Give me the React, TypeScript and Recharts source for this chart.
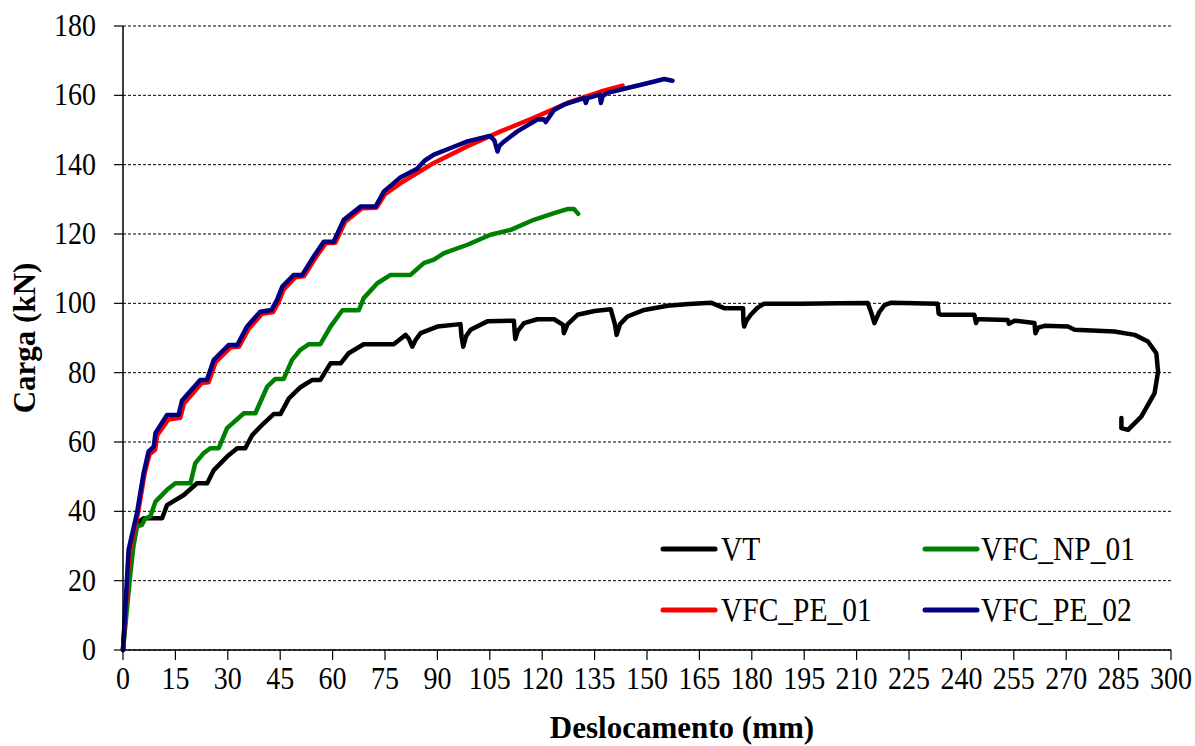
import React from 'react';
import { LineChart, Line, XAxis, YAxis, CartesianGrid } from 'recharts';

// Deslocamento (mm) / Carga (kN)
const VT_MM = [0, 1, 2.1, 3, 4, 5.9, 11.2, 12.6, 17.4, 21.2, 24.1, 26, 29.8, 32.7, 35, 37, 40.3, 43.2, 45.1, 47.5, 50.8, 54.2, 56.5, 59.4, 62.3, 64.6, 68.9, 77.5, 79.5, 80.9, 81.8, 82.8, 83.8, 85.2, 90, 96.6, 96.9, 97.4, 98.2, 99.5, 104.3, 111.9, 112.1, 112.3, 113, 114.8, 118.6, 123.4, 126, 126.2, 127.3, 130.1, 135, 139.6, 140.8, 141.3, 142.3, 144.4, 149.2, 155.9, 162, 168.3, 170, 172.1, 177.5, 177.6, 177.8, 178.5, 179.7, 181.5, 183.5, 194.1, 205, 213.2, 214.3, 215.1, 216.5, 218, 219.9, 233.2, 233.5, 234.2, 243.7, 244.2, 244.6, 245.6, 253.3, 253.6, 255.2, 260.9, 261.2, 262, 263.8, 270.5, 272.4, 283.8, 289.6, 293.4, 295.8, 296.3, 295.3, 291.5, 287.7, 285.8, 285.8];
const VT_KN = [0, 14, 27.9, 33.5, 36.6, 38, 38, 41.8, 44.7, 48.1, 48.1, 51.9, 55.8, 58.2, 58.2, 62, 65.4, 68.1, 68.1, 72.6, 75.8, 77.9, 77.9, 82.7, 82.7, 85.6, 88.2, 88.2, 89.8, 90.9, 89.8, 87.5, 89.5, 91.4, 93.3, 94, 90.5, 87.5, 90.5, 92.4, 94.8, 95, 92, 89.7, 92, 94.3, 95.4, 95.4, 93.8, 91.4, 94, 96.7, 97.8, 98.3, 94, 90.9, 94, 96.2, 98.1, 99.3, 99.8, 100.2, 99.5, 98.6, 98.6, 95, 93.3, 95, 96.7, 98.6, 99.9, 99.9, 100, 100.1, 97, 94.3, 97.5, 99.5, 100.2, 99.9, 97, 96.7, 96.7, 94.3, 95.4, 95.4, 95.2, 94.1, 95, 94.3, 91.4, 93, 93.5, 93.3, 92.4, 91.9, 90.9, 89, 85.6, 80.3, 74.1, 67.3, 63.5, 64, 66.9];

const NP_MM = [0, 2.1, 3, 4, 5.4, 6.4, 7.8, 9.3, 12.6, 15, 19.3, 20.7, 23.1, 25, 27.4, 29.8, 34.6, 37.9, 41.3, 43.6, 46, 48.4, 50.8, 53.2, 56.5, 59.4, 62.8, 67.5, 68.9, 72.8, 76.6, 82.3, 86.1, 89, 91.9, 98.6, 105.2, 111, 117.6, 123.4, 127.2, 129.1, 130.3];
const NP_KN = [0, 22, 30, 35.6, 36.1, 38, 38.5, 42.8, 46.2, 48.1, 48.1, 53.9, 56.8, 58.2, 58.2, 64, 68.3, 68.3, 76, 78.2, 78.2, 83.7, 86.6, 88.2, 88.2, 93.3, 98, 98, 101.5, 105.8, 108.2, 108.2, 111.6, 112.6, 114.5, 116.9, 119.8, 121.2, 124.1, 126, 127.2, 127.2, 125.8];

const PE1_MM = [0, 1.8, 4.3, 6.2, 7.6, 9.2, 9.8, 13, 16.4, 17.4, 22.5, 24.5, 26.5, 30.8, 33.2, 36, 39.8, 43, 44.6, 46, 49.3, 51.8, 55, 58, 60.8, 63.6, 68.4, 72.6, 75, 79.5, 89, 98.6, 108.1, 117.6, 127.2, 136.8, 143];
const PE1_KN = [0, 28, 39.5, 51, 56.5, 57.8, 62, 66.5, 67, 71, 77, 77.2, 83, 87.3, 87.5, 92.7, 97, 97.5, 100.5, 104, 107.5, 107.8, 113, 117.3, 117.5, 123.5, 127.4, 127.6, 131.5, 134.7, 140.5, 145.3, 149.6, 153.5, 157.8, 161.1, 162.8];

const PE2_MM = [0, 1.6, 4, 5.9, 7.3, 8.8, 9.3, 12.6, 15.9, 16.9, 22.1, 24, 26, 30.3, 32.7, 35.5, 39.3, 42.5, 44.1, 45.6, 48.9, 51.3, 54.6, 57.5, 60.3, 63.2, 68, 72.3, 74.7, 79.5, 84.2, 86.4, 89, 93.8, 98.6, 105, 106.3, 107.2, 107.8, 109.1, 112.9, 118.6, 120.5, 121, 121.6, 123.4, 126.2, 132, 132.5, 133, 136.5, 136.8, 137.3, 138.7, 144.4, 150.1, 154.9, 157.3];
const PE2_KN = [0, 28.9, 39.5, 51, 57.2, 58.7, 62.6, 67.8, 67.8, 72, 77.9, 77.9, 83.7, 88, 88, 93.3, 97.6, 98.1, 101, 104.8, 108.2, 108.2, 113.5, 117.8, 117.8, 124.1, 127.9, 127.9, 132.3, 136.4, 138.8, 141.2, 142.9, 144.8, 146.7, 148.3, 147, 143.8, 145.5, 146.7, 149.6, 153, 153.1, 152.3, 153.2, 155.8, 157.3, 159.2, 157.8, 159.2, 160.2, 157.8, 159.8, 160.7, 162.1, 163.5, 164.7, 164.2];

const X_TICKS = [0, 15, 30, 45, 60, 75, 90, 105, 120, 135, 150, 165, 180, 195, 210, 225, 240, 255, 270, 285, 300];
const Y_TICKS = [0, 20, 40, 60, 80, 100, 120, 140, 160, 180];

const toPoints = (xs: number[], ys: number[]) => xs.map((x, i) => ({ x, y: ys[i] }));

const SERIES = [
  { name: 'VT', color: '#000000', data: toPoints(VT_MM, VT_KN) },
  { name: 'VFC_NP_01', color: '#008000', data: toPoints(NP_MM, NP_KN) },
  { name: 'VFC_PE_01', color: '#ff0000', data: toPoints(PE1_MM, PE1_KN) },
  { name: 'VFC_PE_02', color: '#000080', data: toPoints(PE2_MM, PE2_KN) },
];

const FONT = '"Liberation Serif", "Times New Roman", serif';

function XTick({ x, y, payload }: any) {
  return (
    <g transform={`translate(${x},${y + 27})`}>
      <text textAnchor="middle" transform="scale(1,1.12)" fontFamily={FONT} fontSize={28} fill="#000">
        {payload.value}
      </text>
    </g>
  );
}

function YTick({ x, y, payload }: any) {
  return (
    <g transform={`translate(${x},${y + 10})`}>
      <text textAnchor="end" transform="scale(1,1.12)" fontFamily={FONT} fontSize={28} fill="#000">
        {payload.value}
      </text>
    </g>
  );
}

// legend sits in the lower right of the plot, 2 x 2
const LEGEND_POS = [
  { lx: 663, ly: 549, tx: 721, ty: 560 },
  { lx: 925, ly: 549, tx: 981, ty: 560 },
  { lx: 663, ly: 610, tx: 721, ty: 621 },
  { lx: 925, ly: 610, tx: 981, ty: 621 },
];

export default function App() {
  return (
    <div style={{ position: 'absolute', left: 0, top: 0, width: 1195, height: 746, background: '#fff' }}>
      <LineChart width={1195} height={746} margin={{ top: 26, right: 24, left: 0, bottom: 0 }}>
        <CartesianGrid vertical={false} stroke="#000" strokeDasharray="3 2" strokeWidth={1} />
        <XAxis
          type="number"
          dataKey="x"
          domain={[0, 300]}
          ticks={X_TICKS}
          interval={0}
          height={96}
          tickSize={10}
          axisLine={{ stroke: '#000', strokeWidth: 1.5 }}
          tickLine={{ stroke: '#000', strokeWidth: 1.2 }}
          tick={<XTick />}
          label={{
            content: () => (
              <text x={682} y={738} textAnchor="middle" fontFamily={FONT} fontWeight="bold" fontSize={31} fill="#000">
                Deslocamento (mm)
              </text>
            ),
          }}
        />
        <YAxis
          type="number"
          dataKey="y"
          domain={[0, 180]}
          ticks={Y_TICKS}
          interval={0}
          width={123}
          tickSize={9}
          tickMargin={18}
          axisLine={{ stroke: '#000', strokeWidth: 1.5 }}
          tickLine={{ stroke: '#000', strokeWidth: 1.2 }}
          tick={<YTick />}
          label={{
            content: () => (
              <text
                x={35}
                y={338}
                transform="rotate(-90, 35, 338)"
                textAnchor="middle"
                fontFamily={FONT}
                fontWeight="bold"
                fontSize={31}
                fill="#000"
              >
                Carga (kN)
              </text>
            ),
          }}
        />
        {SERIES.map((s) => (
          <Line
            key={s.name}
            data={s.data}
            dataKey="y"
            name={s.name}
            type="linear"
            stroke={s.color}
            strokeWidth={4.5}
            strokeLinejoin="round"
            strokeLinecap="round"
            dot={false}
            isAnimationActive={false}
          />
        ))}
      </LineChart>
      <svg width={1195} height={746} style={{ position: 'absolute', left: 0, top: 0, pointerEvents: 'none' }}>
        {SERIES.map((s, i) => {
          const p = LEGEND_POS[i];
          return (
            <g key={s.name}>
              <line x1={p.lx} y1={p.ly} x2={p.lx + 52} y2={p.ly} stroke={s.color} strokeWidth={5} strokeLinecap="round" />
              <g transform={`translate(${p.tx},${p.ty})`}>
                <text transform="scale(1,1.15)" fontFamily={FONT} fontSize={29.5} fill="#000">
                  {s.name}
                </text>
              </g>
            </g>
          );
        })}
      </svg>
    </div>
  );
}
